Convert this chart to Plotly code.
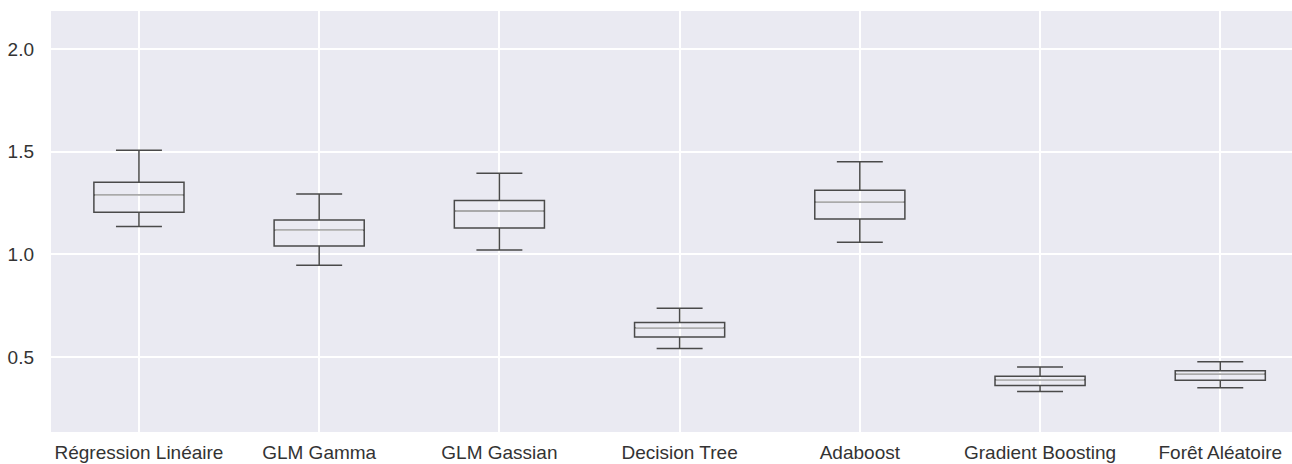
import plotly.graph_objects as go

categories = ["Régression Linéaire", "GLM Gamma", "GLM Gassian", "Decision Tree",
              "Adaboost", "Gradient Boosting", "Forêt Aléatoire"]
lower_whisker = [1.135, 0.946, 1.021, 0.541, 1.059, 0.331, 0.349]
q1_values     = [1.205, 1.040, 1.128, 0.597, 1.172, 0.360, 0.386]
median_values = [1.288, 1.117, 1.211, 0.642, 1.255, 0.388, 0.417]
q3_values     = [1.351, 1.167, 1.262, 0.668, 1.312, 0.406, 0.432]
upper_whisker = [1.507, 1.294, 1.394, 0.737, 1.450, 0.451, 0.476]
y_ticks = [0.5, 1.0, 1.5, 2.0]

positions = list(range(len(categories)))
BOX_W = 0.5

fig = go.Figure()
fig.add_trace(go.Box(
    x=positions,
    q1=q1_values, median=median_values, q3=q3_values,
    lowerfence=lower_whisker, upperfence=upper_whisker,
    width=BOX_W, whiskerwidth=0.51,
    line=dict(color="#4a4a4a", width=1.5),
    fillcolor="rgba(0,0,0,0)",
    boxpoints=False, hoverinfo="skip", showlegend=False,
))

mx, my = [], []
for p, m in zip(positions, median_values):
    mx += [p - BOX_W / 2 + 0.006, p + BOX_W / 2 - 0.006, None]
    my += [m, m, None]
fig.add_trace(go.Scatter(
    x=mx, y=my, mode="lines",
    line=dict(color="#bdbdbd", width=1.6),
    hoverinfo="skip", showlegend=False,
))

fig.update_layout(
    width=1292, height=464,
    margin=dict(l=51, r=0, t=11, b=32),
    paper_bgcolor="white", plot_bgcolor="#EAEAF2",
    font=dict(family="Liberation Sans, Arial, sans-serif", size=19, color="#333333"),
    xaxis=dict(
        range=[-0.488, 6.398],
        tickmode="array", tickvals=positions, ticktext=categories,
        showgrid=True, gridcolor="white", gridwidth=1.7,
        zeroline=False, showline=False, ticks="", ticklabelstandoff=7,
    ),
    yaxis=dict(
        range=[0.134, 2.185],
        tickmode="array", tickvals=y_ticks, ticktext=[f"{v:.1f}" for v in y_ticks],
        showgrid=True, gridcolor="white", gridwidth=1.7,
        zeroline=False, showline=False, ticks="", ticklabelstandoff=16,
    ),
)

fig.write_html("out.html")
